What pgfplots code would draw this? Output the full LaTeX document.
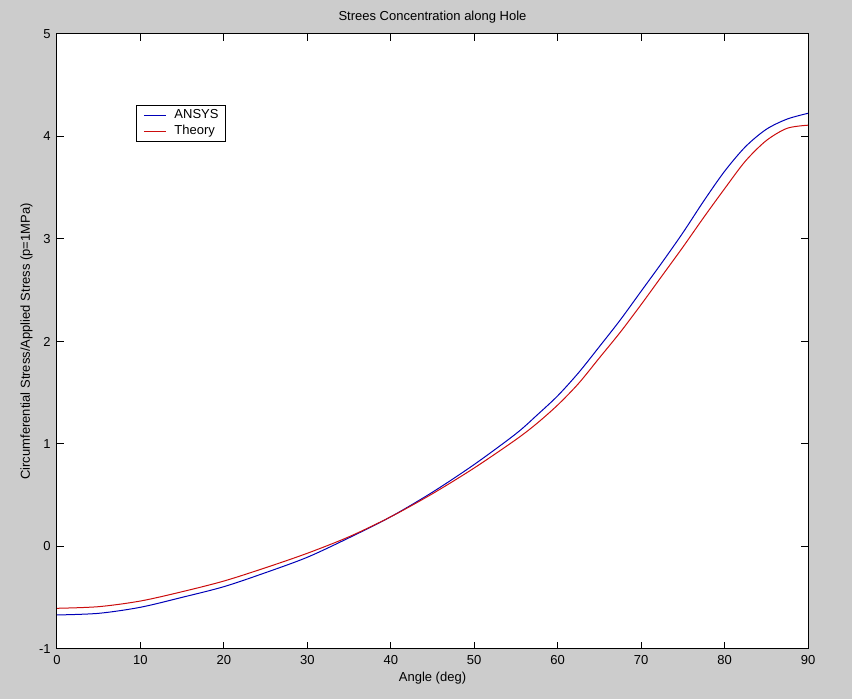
\documentclass[border=0pt]{standalone}
\usepackage{pgfplots}
\pgfplotsset{compat=1.18}
\usepackage{fontspec}
\setmainfont{Liberation Sans}
\definecolor{figgray}{rgb}{0.8,0.8,0.8}
\definecolor{mblue}{rgb}{0,0,0.72}
\definecolor{mred}{rgb}{0.8,0.05,0.05}

\pgfplotstableread{
x y
0 -0.668
5 -0.652
10 -0.593
15 -0.496
20 -0.392
25 -0.255
30 -0.105
35 0.085
40 0.29
45 0.53
50 0.80
55 1.10
57.5 1.28
60 1.47
62.5 1.695
65 1.95
67.5 2.21
70 2.49
72.5 2.77
75 3.06
77.5 3.37
80 3.66
82.5 3.90
85 4.07
87.5 4.17
90 4.226
}\ansys

\pgfplotstableread{
x y
0 -0.603
5 -0.587
10 -0.532
15 -0.441
20 -0.337
25 -0.207
30 -0.066
35 0.095
40 0.29
45 0.515
50 0.766
55 1.043
57.5 1.20
60 1.38
62.5 1.59
65 1.84
67.5 2.09
70 2.36
72.5 2.64
75 2.92
77.5 3.21
80 3.49
82.5 3.76
85 3.96
87.5 4.08
90 4.11
}\theory

\begin{document}
\begin{tikzpicture}[x=1pt,y=1pt]
\fill[figgray] (-28.5,-25) rectangle (397.5,324.5);
\begin{axis}[
  at={(0,0)}, anchor=south west, scale only axis,
  width=375.5pt, height=307.5pt,
  xmin=0, xmax=90, ymin=-1, ymax=5,
  xtick={0,10,...,90}, ytick={-1,0,...,5},
  axis background/.style={fill=white},
  axis line style={line width=0.5pt, black},
  major tick length=3.5pt,
  every tick/.style={black, line width=0.5pt},
  /pgf/number format/assume math mode=true,
  tick label style={font=\fontsize{6.5}{7.5}\selectfont, inner sep=0pt},
  xticklabel style={yshift=-3pt},
  yticklabel style={xshift=-3pt},
  title={Strees Concentration along Hole},
  every axis title/.style={at={(axis description cs:0.5,1)}, anchor=south, yshift=5pt, inner sep=0pt, font=\fontsize{6.5}{7.5}\selectfont},
  xlabel={Angle (deg)},
  every axis x label/.style={at={(axis description cs:0.5,0)}, anchor=north, yshift=-11.5pt, inner sep=0pt, font=\fontsize{6.5}{7.5}\selectfont},
  ylabel={Circumferential Stress/Applied Stress (p=1MPa)},
  every axis y label/.style={at={(axis description cs:0,0.5)}, xshift=-12pt, rotate=90, anchor=south, inner sep=0pt, font=\fontsize{6.5}{7.5}\selectfont},
  legend style={at={(0.105,0.8846)}, anchor=north west, fill=white, draw=black,
    inner xsep=3.5pt, inner ysep=1.75pt, row sep=1.5pt, column sep=4pt,
    font=\fontsize{6.5}{7.5}\selectfont,
    nodes={inner sep=0pt, text height=5pt, text depth=1.5pt}},
  legend cell align=left,
]
\addplot[color=mblue, line width=0.5pt, smooth,
  legend image code/.code={\path[draw=mblue, line width=0.6pt] (0pt,0pt) -- (11pt,0pt);}] table[x=x,y=y] {\ansys};
\addlegendentry{ANSYS\hspace{2pt}}
\addplot[color=mred, line width=0.5pt, smooth,
  legend image code/.code={\path[draw=mred, line width=0.6pt] (0pt,0pt) -- (11pt,0pt);}] table[x=x,y=y] {\theory};
\addlegendentry{Theory}
\end{axis}
\pgfresetboundingbox
\useasboundingbox (-28.5,-25) rectangle (397.5,324.5);
\end{tikzpicture}
\end{document}
